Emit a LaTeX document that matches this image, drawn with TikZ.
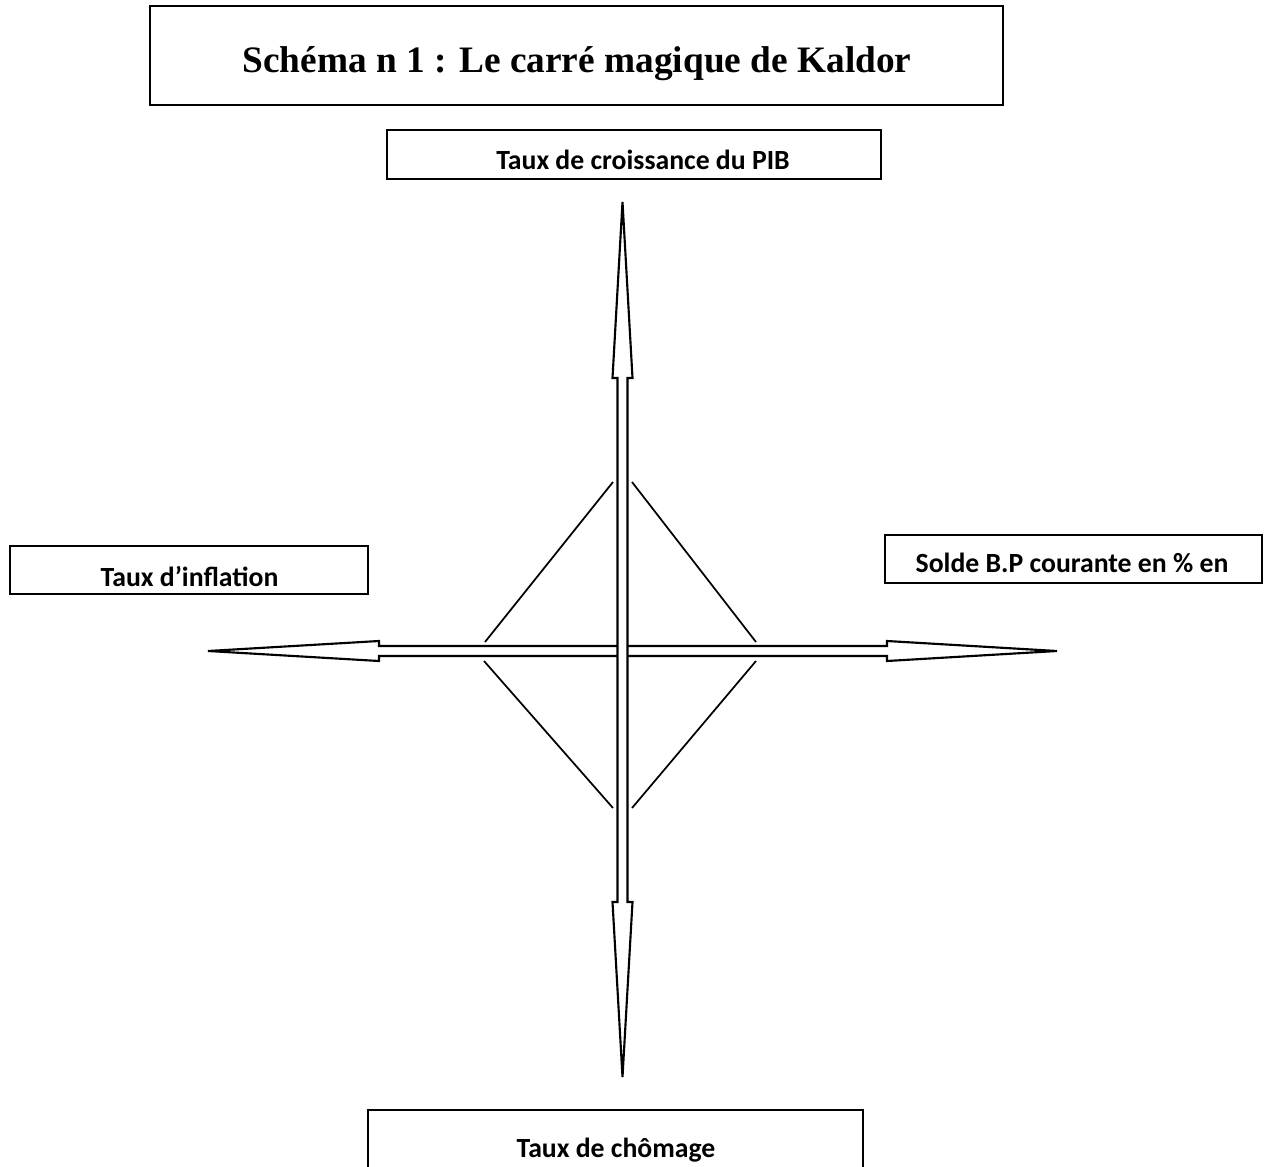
\documentclass[tikz,border=0pt]{standalone}
\usepackage{fontspec}
\setmainfont{Liberation Serif}
\newfontfamily\calibri{Carlito}
\begin{document}
\begin{tikzpicture}[x=0.75pt,y=-0.75pt,
  box/.style={draw=black,line width=1.6pt,rectangle,inner sep=0pt,fill=white},
  lbl/.style={font=\calibri\bfseries\fontsize{20.8pt}{24pt}\selectfont,inner sep=0pt,anchor=center},
  arrowshape/.style={draw=black,line width=1.6pt,fill=white,line join=miter},
  diag/.style={draw=black,line width=1.3pt}]
\useasboundingbox (0,0) rectangle (1268,1167);
\clip (0,0) rectangle (1268,1167);
\fill[white] (0,0) rectangle (1268,1167);

% title
\node[box,minimum width=853*0.75pt,minimum height=99*0.75pt] (title) at (576.5,55.5) {};
\node[font=\bfseries\fontsize{28pt}{32pt}\selectfont,inner sep=0pt] (titletext) at (577,64) {Schéma n 1 : Le carré magique de Kaldor};

% boxes
\node[box,minimum width=494*0.75pt,minimum height=49*0.75pt] (top) at (634,154.5) {};
\node[lbl] (toptext) at (643,160) {Taux de croissance du PIB};
\node[box,minimum width=358*0.75pt,minimum height=48*0.75pt] (left) at (189,570) {};
\node[lbl] (lefttext) at (189.5,577) {Taux d’inflation};
\node[box,minimum width=377*0.75pt,minimum height=48*0.75pt] (right) at (1073.5,559) {};
\node[lbl] (righttext) at (1072,563) {Solde B.P courante en \% en};
\node[box,minimum width=495*0.75pt,minimum height=100*0.75pt] (bottom) at (615.5,1160) {};
\node[lbl] (bottomtext) at (616,1150) {Taux de chômage};

% horizontal double arrow
\draw[arrowshape] (208,651) -- (379,641) -- (379,646) -- (887,646) -- (887,641) -- (1057,651)
  -- (887,661) -- (887,656) -- (379,656) -- (379,661) -- cycle;
% vertical double arrow
\draw[arrowshape] (622.5,202) -- (632.5,378) -- (627.5,378) -- (627.5,902) -- (632.5,902) -- (622.5,1077)
  -- (612.5,902) -- (617.5,902) -- (617.5,378) -- (612.5,378) -- cycle;

% diamond lines
\coordinate (d1a) at (485,642); \coordinate (d1b) at (613,482);
\coordinate (d2a) at (632,482); \coordinate (d2b) at (756,642);
\coordinate (d3a) at (484,661); \coordinate (d3b) at (613,808);
\coordinate (d4a) at (632,808); \coordinate (d4b) at (756,661);
\draw[diag] (d1a) -- (d1b);
\draw[diag] (d2a) -- (d2b);
\draw[diag] (d3a) -- (d3b);
\draw[diag] (d4a) -- (d4b);
\end{tikzpicture}
\end{document}
